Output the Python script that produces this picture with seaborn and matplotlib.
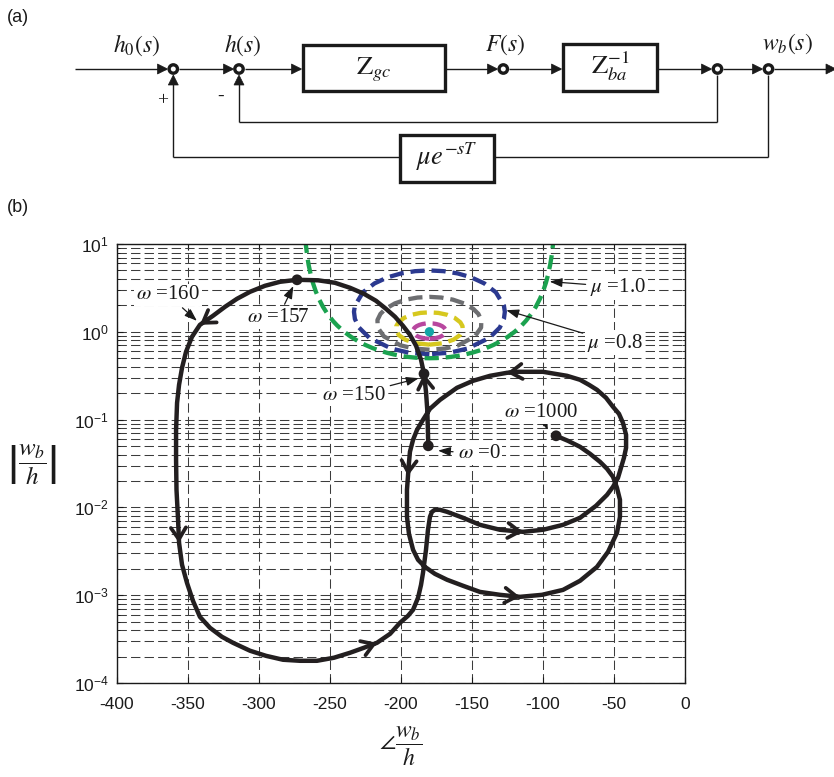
import matplotlib
matplotlib.use("Agg")
import matplotlib.pyplot as plt
import seaborn as sns
import numpy as np
import pandas as pd
from matplotlib.patches import Rectangle, Circle, Polygon

sns.set_theme(style="white")
plt.rcParams['font.family'] = ['Liberation Sans', 'DejaVu Sans']
plt.rcParams['mathtext.fontset'] = 'stix'
plt.rcParams['axes.unicode_minus'] = False

# ---------------- data ----------------
curve_phase = [-180.8, -181.1, -181.5, -182.4, -183.8, -185.9, -189.4, -193.7, -198.6, -204.2,
               -210.6, -217.6, -226.1, -235.9, -246.5, -258.4, -273.2, -285.2, -295.8, -306.3,
               -315.5, -323.9, -332.4, -341.6, -347.2, -351.4, -354.2, -356.3, -357.7, -358.4,
               -358.4, -358.1, -357.0, -356.3, -354.2, -350.7, -346.5, -341.6, -334.5, -326.1,
               -318.3, -306.3, -295.1, -283.1, -271.1, -259.2, -247.2, -235.9, -226.1, -216.9,
               -207.7, -200.7, -195.1, -191.5, -188.0, -185.9, -184.5, -182.4, -181.0, -179.6,
               -178.2, -176.1, -172.5, -167.6, -156.3, -144.4, -130.3, -114.1, -100.0, -85.9,
               -73.9, -62.7, -54.9, -50.7, -47.2, -45.1, -43.0, -41.5, -41.5, -43.7,
               -46.5, -50.7, -55.6, -62.0, -67.6, -73.9, -83.1, -91.5, -100.0, -109.2,
               -117.6, -125.4, -137.3, -149.3, -160.6, -172.5, -179.6, -184.5, -188.7, -191.5,
               -193.7, -194.4, -195.1, -195.8, -195.8, -195.8, -194.4, -191.5, -188.0, -183.1,
               -176.1, -167.6, -156.3, -144.4, -130.3, -116.2, -100.7, -85.9, -73.9, -62.0,
               -54.2, -47.9, -45.8, -45.8, -47.9, -50.7, -54.9, -59.9, -66.9, -73.9,
               -82.4, -90.8]
curve_mag = [0.0503, 0.0806, 0.1293, 0.2073, 0.3323, 0.4799, 0.6927, 0.9243, 1.170, 1.482,
             1.828, 2.255, 2.709, 3.171, 3.615, 3.860, 3.911, 3.711, 3.342, 2.855,
             2.376, 1.927, 1.521, 1.201, 0.877, 0.5918, 0.389, 0.249, 0.1553, 0.0765,
             0.0348, 0.01586, 0.00722, 0.00395, 0.00222, 0.00138, 0.000863, 0.000567, 0.000425, 0.000336,
             0.000287, 0.000233, 0.000204, 0.000184, 0.000179, 0.000179, 0.000194, 0.000221, 0.000252, 0.000287,
             0.000363, 0.000485, 0.000582, 0.000682, 0.000934, 0.00131, 0.00180, 0.00329, 0.00556, 0.00781,
             0.00891, 0.00939, 0.00939, 0.00891, 0.00761, 0.00633, 0.00556, 0.00527, 0.00556, 0.00633,
             0.00761, 0.01042, 0.0139, 0.01716, 0.0217, 0.0282, 0.0367, 0.0477, 0.0671, 0.0919,
             0.1164, 0.1398, 0.1771, 0.2185, 0.249, 0.2840, 0.3153, 0.3323, 0.3503, 0.3503,
             0.3503, 0.3412, 0.3153, 0.2766, 0.2302, 0.168, 0.1327, 0.0995, 0.0765, 0.0589,
             0.0430, 0.0322, 0.0229, 0.01586, 0.01128, 0.00781, 0.00500, 0.00329, 0.00253, 0.00210,
             0.00175, 0.00150, 0.00128, 0.00109, 0.00101, 0.000958, 0.00101, 0.00115, 0.00146, 0.00210,
             0.00312, 0.00514, 0.00781, 0.0122, 0.0167, 0.0223, 0.0275, 0.0331, 0.0408, 0.0490,
             0.0573, 0.0654]
dot_index = [0, 4, 16, len(curve_phase) - 1]      # omega = 0, 150, 157, 1000
arrow_index = [4, 23, 33, 49, 67, 91, 102, 115]

mu10_phase = [-267.5, -266, -265, -263.5, -262, -260, -258, -255, -252, -248, -245, -240,
              -235, -230, -225, -220, -215, -210, -205, -200, -195, -190, -185, -180,
              -175, -170, -165, -160, -155, -150, -145, -140, -135, -130, -125, -120,
              -115, -112, -108, -105, -102, -100, -98, -96.5, -95, -94, -92.5]
mu10_mag = [11.46, 7.168, 5.737, 4.417, 3.593, 2.879, 2.405, 1.932, 1.618, 1.335, 1.183, 1.0,
            0.8717, 0.7779, 0.7071, 0.6527, 0.6104, 0.5774, 0.5517, 0.5321, 0.5176, 0.5077, 0.5019, 0.5,
            0.5019, 0.5077, 0.5176, 0.5321, 0.5517, 0.5774, 0.6104, 0.6527, 0.7071, 0.7779, 0.8717, 1.0,
            1.183, 1.335, 1.618, 1.932, 2.405, 2.879, 3.593, 4.417, 5.737, 7.168, 11.46]

mu08_phase = [-180, -194.54, -206.78, -222.33, -229.56, -232.47, -233.12, -232.48, -226.81,
              -218.66, -209.50, -199.86, -189.99, -180, -170.01, -160.14, -150.50, -141.34,
              -133.19, -127.52, -126.88, -127.53, -130.44, -137.67, -153.22, -165.46, -180]
mu08_mag = [0.556, 0.579, 0.644, 0.854, 1.117, 1.401, 1.691, 1.981, 2.816, 3.557, 4.169, 4.624,
            4.905, 5.0, 4.905, 4.624, 4.169, 3.557, 2.816, 1.981, 1.691, 1.401, 1.117, 0.854,
            0.644, 0.579, 0.556]

mu06_phase = [-180, -190.94, -200.27, -211.99, -216.39, -216.58, -214.46, -210.96, -204.27,
              -196.59, -188.40, -180, -171.60, -163.41, -155.73, -149.04, -145.54, -143.42,
              -143.61, -148.01, -159.73, -169.06, -180]
mu06_mag = [0.625, 0.6447, 0.7003, 0.8850, 1.1175, 1.3622, 1.6006, 1.8222, 2.1075, 2.3220,
            2.4550, 2.5, 2.4550, 2.3220, 2.1075, 1.8222, 1.6006, 1.3622, 1.1175, 0.8850,
            0.7003, 0.6447, 0.625]

mu04_phase = [-180, -189.58, -197.01, -201.52, -203.41, -203.32, -201.80, -197.77, -192.43,
              -186.38, -180, -173.62, -167.57, -162.23, -158.20, -156.68, -156.59, -158.48,
              -162.99, -170.42, -180]
mu04_mag = [0.7143, 0.7408, 0.8137, 0.9178, 1.0378, 1.1621, 1.2822, 1.4415, 1.5639, 1.6406,
            1.6667, 1.6406, 1.5639, 1.4415, 1.2822, 1.1621, 1.0378, 0.9178, 0.8137, 0.7408, 0.7143]

mu02_phase = [-180, -183.67, -186.90, -189.35, -190.89, -191.52, -191.31, -190.41, -188.95,
              -187.06, -184.87, -182.48, -180, -177.52, -175.13, -172.94, -171.05, -169.59,
              -168.69, -168.48, -169.11, -170.65, -173.10, -176.33, -180]
mu02_mag = [0.8333, 0.8422, 0.8675, 0.9064, 0.9547, 1.0080, 1.0623, 1.1139, 1.1599, 1.1981,
            1.2265, 1.2441, 1.25, 1.2441, 1.2265, 1.1981, 1.1599, 1.1139, 1.0623, 1.0080,
            0.9547, 0.9064, 0.8675, 0.8422, 0.8333]

mu00_phase = [-180]
mu00_mag = [1.0]

xticks = [-400, -350, -300, -250, -200, -150, -100, -50, 0]

# ---------------- figure ----------------
fig = plt.figure(figsize=(8.34, 7.77), dpi=100)

# block diagram layer (pixel coordinates)
ax0 = fig.add_axes([0, 0, 1, 1])
ax0.set_xlim(0, 834)
ax0.set_ylim(777, 0)
ax0.axis('off')

LW = 1.0
def hline(x0, x1, y):
    ax0.plot([x0, x1], [y, y], color='k', lw=LW, solid_capstyle='butt')
def vline(x, y0, y1):
    ax0.plot([x, x], [y0, y1], color='k', lw=LW, solid_capstyle='butt')
def head(x, y, d):
    L, W = 10, 5
    if d == 'r':
        pts = [(x, y), (x - L, y - W), (x - L, y + W)]
    else:
        pts = [(x, y), (x - W, y + L), (x + W, y + L)]
    ax0.add_patch(Polygon(pts, closed=True, fc='k', ec='k', lw=0.5, zorder=4))
def node(x, y):
    ax0.add_patch(Circle((x, y), 4.2, fc='white', ec='k', lw=2.4, zorder=5))
def box(x0, y0, x1, y1):
    ax0.add_patch(Rectangle((x0, y0), x1 - x0, y1 - y0, fc='white', ec='k', lw=2.4, zorder=3))

Y = 69
nodes_x = [173.3, 239, 503.3, 717.5, 768.5]
hline(75, 166, Y); head(167.5, Y, 'r')
hline(179, 232, Y); head(233.5, Y, 'r')
hline(245, 300, Y); head(301.5, Y, 'r')
box(302.7, 45, 445, 90.7)
hline(446, 496, Y); head(497.5, Y, 'r')
hline(509, 560, Y); head(561.5, Y, 'r')
box(562.7, 44, 656.7, 90.7)
hline(658, 710, Y); head(711.5, Y, 'r')
hline(723.5, 761, Y); head(762.5, Y, 'r')
hline(774.5, 830, Y); head(836, Y, 'r')
vline(717.5, 75, 121.7); hline(239, 717.5, 121.7); vline(239, 121.7, 84); head(239, 75, 'u')
vline(768.5, 75, 157.3); hline(494, 768.5, 157.3)
box(400.5, 135, 494, 181.7)
hline(173.3, 400.5, 157.3); vline(173.3, 157.3, 84); head(173.3, 75, 'u')
for nx in nodes_x:
    node(nx, Y)

tk = dict(ha='center', va='center', color='k')
ax0.text(136, 45, r'$h_0(s)$', fontsize=17, **tk)
ax0.text(243, 45, r'$h(s)$', fontsize=17, **tk)
ax0.text(505, 45, r'$F(s)$', fontsize=17, **tk)
ax0.text(787, 44, r'$w_b(s)$', fontsize=17, **tk)
ax0.text(373.8, 70, r'$\mathrm{Z}_{gc}$', fontsize=19, **tk)
ax0.text(610, 66, r'$\mathrm{Z}_{ba}^{-1}$', fontsize=19, **tk)
ax0.text(447, 157, r'$\mu e^{\mathrm{-}sT}$', fontsize=19, **tk)
ax0.text(163, 101, '+', fontsize=14, family='Liberation Serif', **tk)
ax0.text(221, 96, '-', fontsize=14, family='Liberation Serif', **tk)
ax0.text(18, 17, '(a)', fontsize=13, **tk)
ax0.text(18, 207, '(b)', fontsize=13, **tk)

# Nichols-type plot
ax = fig.add_axes([117 / 834, 1 - 683 / 777, 568 / 834, 439 / 777])
ax.set_yscale('log')
ax.set_xlim(-400, 0)
ax.set_ylim(1e-4, 10)

contours = [
    (mu10_phase, mu10_mag, '#1ba24f'),
    (mu08_phase, mu08_mag, '#2b3990'),
    (mu06_phase, mu06_mag, '#6d6e71'),
    (mu04_phase, mu04_mag, '#d6c81f'),
    (mu02_phase, mu02_mag, '#b8479f'),
]
for ph, mg, col in contours:
    df = pd.DataFrame({'phase': ph, 'mag': mg})
    sns.lineplot(data=df, x='phase', y='mag', sort=False, estimator=None, color=col,
                 lw=3.1, linestyle=(0, (3.3, 1.6)), ax=ax, zorder=2)
sns.scatterplot(x=mu00_phase, y=mu00_mag, s=45, color='#13a6a6', edgecolor='none',
                ax=ax, zorder=3, legend=False)

CK = '#231f20'
dfc = pd.DataFrame({'phase': curve_phase, 'mag': curve_mag})
sns.lineplot(data=dfc, x='phase', y='mag', sort=False, estimator=None, color=CK,
             lw=3.2, ax=ax, zorder=4)

for i in arrow_index:
    x1, y1 = curve_phase[i], curve_mag[i]
    x0, y0 = curve_phase[i - 1], curve_mag[i - 1]
    tx = x1 + 0.2 * (x0 - x1)
    ty = 10 ** (np.log10(y1) + 0.2 * (np.log10(y0) - np.log10(y1)))
    ax.annotate('', xy=(x1, y1), xytext=(tx, ty),
                arrowprops=dict(arrowstyle='->,head_length=0.7,head_width=0.45', lw=2.7,
                                color=CK, shrinkA=0, shrinkB=0), zorder=4)

sns.scatterplot(x=[curve_phase[i] for i in dot_index], y=[curve_mag[i] for i in dot_index],
                s=60, color=CK, edgecolor='none', ax=ax, zorder=5, legend=False)

def note(txt, xy, xytext):
    ax.annotate(txt, xy=xy, xytext=xytext, fontsize=15, family='Liberation Serif',
                ha='center', va='center', color='k',
                bbox=dict(boxstyle='square,pad=0.08', fc='white', ec='none'),
                arrowprops=dict(arrowstyle='-|>,head_length=0.5,head_width=0.18', lw=0.9,
                                color='k', shrinkA=2, shrinkB=1), zorder=6)

note(r'$\omega$ =160', (-343.0, 1.30), (-364.1, 2.64))
note(r'$\omega$ =157', (-275.4, 3.43), (-286.6, 1.44))
note(r'$\omega$ =150', (-186.6, 0.299), (-233.1, 0.19))
note(r'$\omega$ =0', (-174.9, 0.0445), (-145.1, 0.0408))
note(r'$\omega$ =1000', (-96.3, 0.0732), (-101.4, 0.1195))
note(r'$\mu$ =1.0', (-96.3, 3.74), (-47.2, 3.25))
note(r'$\mu$ =0.8', (-126.8, 1.78), (-49.3, 0.749))

# grid and axes styling
ax.set_axisbelow(True)
gkw = dict(color='#3c3c3c', lw=0.75, linestyle=(0, (9, 4)))
ax.xaxis.grid(True, which='major', **gkw)
ax.yaxis.grid(True, which='both', **gkw)
ax.set_xticks(xticks)
ax.set_xticklabels([str(v) for v in xticks])
for s in ax.spines.values():
    s.set_visible(True)
    s.set_color('k')
    s.set_linewidth(1.0)
ax.tick_params(which='major', direction='in', length=4, width=0.8, colors='k',
               bottom=True, left=True, top=True, right=True, labelsize=12.5)
ax.tick_params(which='minor', direction='in', length=2, width=0.6, colors='k',
               left=True, right=True)
ax.tick_params(axis='x', pad=10)
ax.tick_params(axis='y', pad=6)

ax.set_xlabel(r'$\angle\dfrac{w_b}{h}$', fontsize=17, color='k')
ax.xaxis.set_label_coords(0.5, -0.1435)
ax.xaxis.label.set_va('center')
ax.set_ylabel(r'$\left|\dfrac{w_b}{h}\right|$', fontsize=18, color='k', rotation=0)
ax.yaxis.set_label_coords(-0.150, 0.497)
ax.yaxis.label.set_va('center')
ax.yaxis.label.set_ha('center')

fig.savefig('out.png', dpi=100)
